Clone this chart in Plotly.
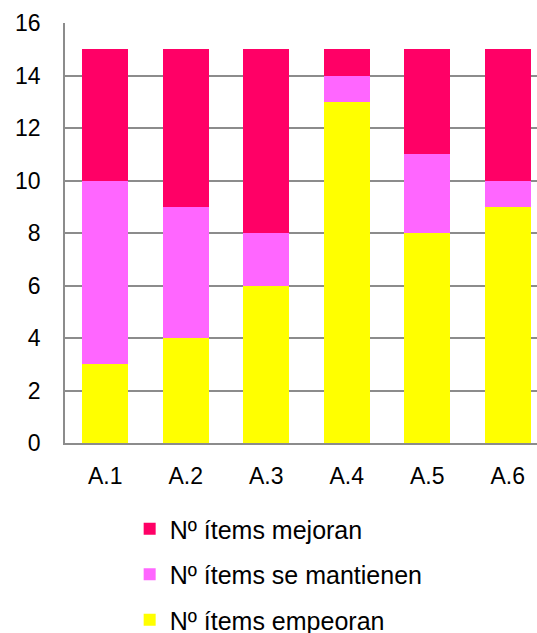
import plotly.graph_objects as go

categories = ["A.1", "A.2", "A.3", "A.4", "A.5", "A.6"]
empeoran = [3, 4, 6, 13, 8, 9]
mantienen = [7, 5, 2, 1, 3, 1]
mejoran = [5, 6, 7, 1, 4, 5]

series = [
    ("Nº ítems empeoran", empeoran, "#FFFF00", "g3", 3),
    ("Nº ítems se mantienen", mantienen, "#FF66FF", "g2", 2),
    ("Nº ítems mejoran", mejoran, "#FF0066", "g1", 1),
]

fig = go.Figure()
for name, vals, color, grp, rank in series:
    fig.add_trace(go.Bar(
        x=categories, y=vals, name=name, legendgroup=grp, legendrank=rank,
        marker=dict(color=color, line=dict(width=0)),
        width=0.57,
    ))

font = "Liberation Sans, Arial, sans-serif"
fig.update_layout(
    width=537, height=633,
    barmode="stack",
    margin=dict(l=65, r=0, t=23, b=190, autoexpand=False),
    plot_bgcolor="white", paper_bgcolor="white",
    font=dict(family=font, size=23, color="black"),
    showlegend=True,
    legend=dict(
        traceorder="grouped", tracegroupgap=10,
        x=0.137, xanchor="left", y=-0.150, yanchor="top",
        font=dict(size=25), itemwidth=30,
    ),
    xaxis=dict(
        range=[-0.5, 5.363], showgrid=False, showline=True,
        linecolor="#8c8c8c", linewidth=1.5, ticks="", ticklabelstandoff=12,
        automargin=False,
    ),
    yaxis=dict(
        range=[0, 16], dtick=2, showgrid=True, gridcolor="#8c8c8c",
        gridwidth=1.5, showline=True, linecolor="#8c8c8c", linewidth=1.5,
        ticks="", ticklabelstandoff=18, zeroline=False, automargin=False,
    ),
)
fig.write_html(
    "out.html",
    config={"displayModeBar": False},
    post_script="document.body.style.margin='0';document.body.style.overflow='hidden';",
)
